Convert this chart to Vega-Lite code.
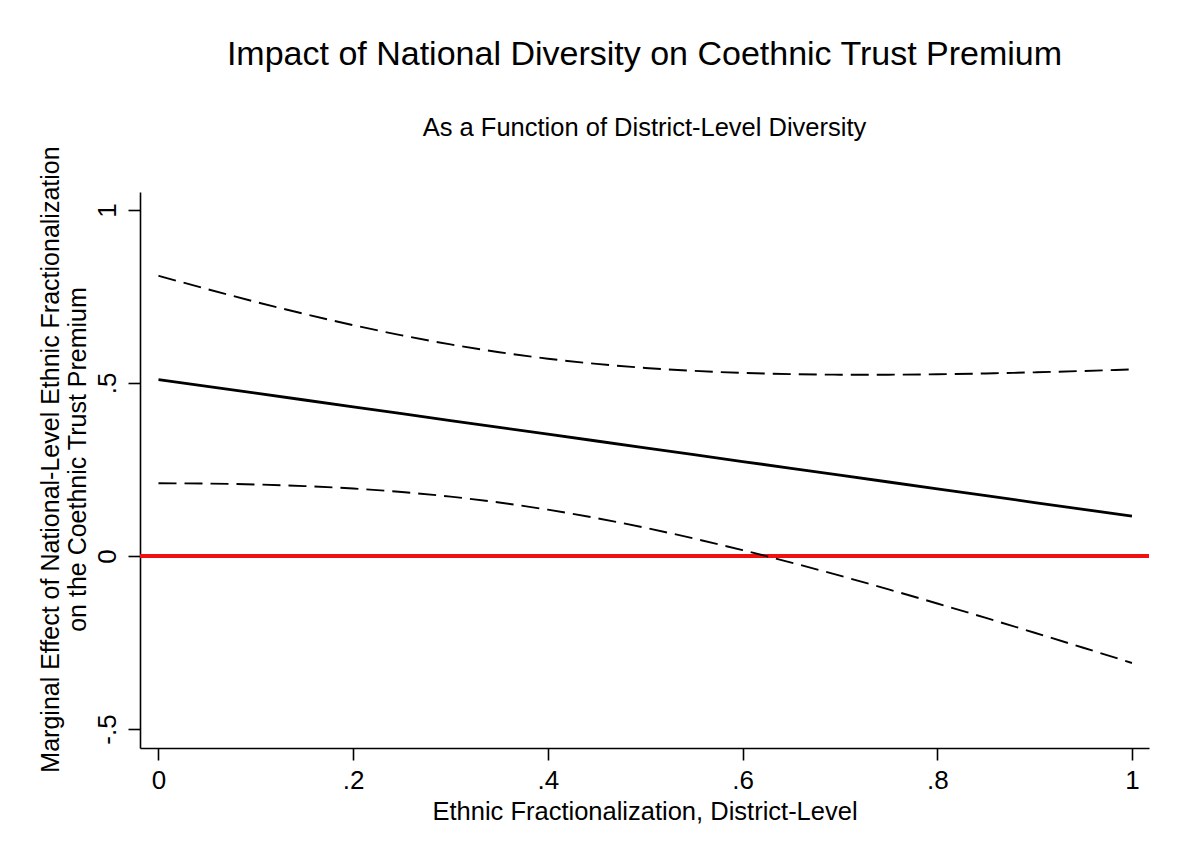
{
  "$schema": "https://vega.github.io/schema/vega-lite/v6.json",
  "width": 1009,
  "height": 556,
  "autosize": {"type": "none"},
  "padding": {"left": 140, "top": 192, "right": 28, "bottom": 113},
  "background": "white",
  "config": {
    "view": {"stroke": null},
    "font": "Liberation Sans",
    "axis": {
      "grid": false,
      "domainColor": "black",
      "domainWidth": 1.6,
      "tickColor": "black",
      "tickWidth": 1.6,
      "tickSize": 12,
      "labelColor": "black",
      "titleColor": "black",
      "titleFontWeight": "normal",
      "labelFlush": false,
      "labelOverlap": false,
      "labelBound": false
    }
  },
  "title": {
    "text": "Impact of National Diversity on Coethnic Trust Premium",
    "subtitle": "As a Function of District-Level Diversity",
    "fontSize": 34,
    "fontWeight": "normal",
    "font": "Liberation Sans",
    "subtitleFont": "Liberation Sans",
    "subtitleFontSize": 25.5,
    "color": "black",
    "subtitleColor": "black",
    "anchor": "middle",
    "frame": "group",
    "offset": 4,
    "subtitlePadding": 44
  },
  "data": {
    "values": [
      {"z": 0, "me": 0.51, "lo": 0.21, "hi": 0.81},
      {"z": 0.05, "me": 0.4903, "lo": 0.2092, "hi": 0.7713},
      {"z": 0.1, "me": 0.4705, "lo": 0.2067, "hi": 0.7343},
      {"z": 0.15, "me": 0.4508, "lo": 0.202, "hi": 0.6995},
      {"z": 0.2, "me": 0.431, "lo": 0.1949, "hi": 0.6671},
      {"z": 0.25, "me": 0.4113, "lo": 0.1848, "hi": 0.6377},
      {"z": 0.3, "me": 0.3915, "lo": 0.1715, "hi": 0.6115},
      {"z": 0.35, "me": 0.3718, "lo": 0.1545, "hi": 0.589},
      {"z": 0.4, "me": 0.352, "lo": 0.1338, "hi": 0.5702},
      {"z": 0.45, "me": 0.3323, "lo": 0.1094, "hi": 0.5551},
      {"z": 0.5, "me": 0.3125, "lo": 0.0815, "hi": 0.5435},
      {"z": 0.55, "me": 0.2928, "lo": 0.0505, "hi": 0.535},
      {"z": 0.6, "me": 0.273, "lo": 0.0168, "hi": 0.5292},
      {"z": 0.65, "me": 0.2533, "lo": -0.0191, "hi": 0.5256},
      {"z": 0.7, "me": 0.2335, "lo": -0.057, "hi": 0.524},
      {"z": 0.75, "me": 0.2138, "lo": -0.0965, "hi": 0.524},
      {"z": 0.8, "me": 0.194, "lo": -0.1373, "hi": 0.5253},
      {"z": 0.85, "me": 0.1743, "lo": -0.1791, "hi": 0.5276},
      {"z": 0.9, "me": 0.1545, "lo": -0.2218, "hi": 0.5308},
      {"z": 0.95, "me": 0.1348, "lo": -0.2652, "hi": 0.5347},
      {"z": 1, "me": 0.115, "lo": -0.3093, "hi": 0.5393}
    ]
  },
  "encoding": {
    "x": {
      "field": "z",
      "type": "quantitative",
      "scale": {"domain": [-0.019, 1.0175], "nice": false, "zero": false},
      "axis": {
        "title": "Ethnic Fractionalization, District-Level",
        "values": [0, 0.2, 0.4, 0.6, 0.8, 1],
        "labelExpr": "replace(format(datum.value, '.1~f'), '0.', '.')",
        "labelFontSize": 26,
        "labelPadding": 7,
        "titleFontSize": 25.5,
        "titlePadding": 6
      }
    }
  },
  "layer": [
    {
      "mark": {"type": "rule", "color": "#f01010", "strokeWidth": 2.5},
      "encoding": {"x": null, "y": {"datum": 0, "type": "quantitative"}}
    },
    {
      "mark": {"type": "line", "color": "black", "strokeWidth": 1.9, "strokeDash": [18, 8], "interpolate": "monotone"},
      "encoding": {"y": {"field": "hi", "type": "quantitative"}}
    },
    {
      "mark": {"type": "line", "color": "black", "strokeWidth": 1.9, "strokeDash": [18, 8], "interpolate": "monotone"},
      "encoding": {"y": {"field": "lo", "type": "quantitative"}}
    },
    {
      "mark": {"type": "line", "color": "black", "strokeWidth": 2.8},
      "encoding": {
        "y": {
          "field": "me",
          "type": "quantitative",
          "scale": {"domain": [-0.555, 1.052], "nice": false, "zero": false},
          "axis": {
            "title": ["Marginal Effect of National-Level Ethnic Fractionalization", "on the Coethnic Trust Premium"],
            "values": [-0.5, 0, 0.5, 1],
            "labelExpr": "datum.value < 0 ? '-' + replace(format(-datum.value, '.1~f'), '0.', '.') : replace(format(datum.value, '.1~f'), '0.', '.')",
            "labelFontSize": 26,
            "labelAngle": 270,
            "labelAlign": "center",
            "labelBaseline": "alphabetic",
            "labelPadding": 13,
            "titleFontSize": 25,
            "titleAngle": 270,
            "titleAlign": "center",
            "titleBaseline": "alphabetic",
            "titleLineHeight": 27,
            "titleX": -82,
            "titleY": 267
          }
        }
      }
    }
  ]
}
